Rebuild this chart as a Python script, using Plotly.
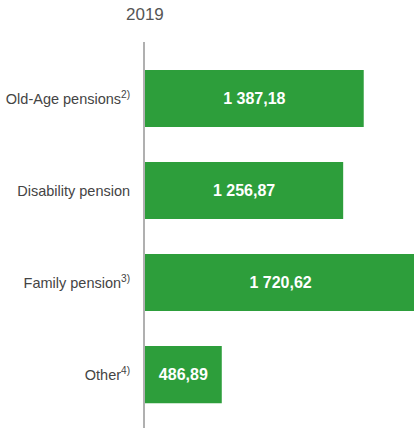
import plotly.graph_objects as go

categories = ["Old-Age pensions<sup>2)</sup>", "Disability pension",
              "Family pension<sup>3)</sup>", "Other<sup>4)</sup>"]
values = [1387.18, 1256.87, 1720.62, 486.89]
year_label = "2019"

fig = go.Figure(go.Bar(
    x=values, y=categories, orientation="h",
    marker=dict(color="#2d9e3b", line=dict(width=0)),
    texttemplate="<b>%{x:,.2f}</b>", textposition="inside",
    insidetextanchor="middle", constraintext="none",
    textfont=dict(family="Liberation Sans, Arial, sans-serif", size=16, color="white"),
    cliponaxis=True, hoverinfo="skip",
))

fig.update_layout(
    width=414, height=428,
    margin=dict(l=145, r=0, t=42, b=0),
    plot_bgcolor="white", paper_bgcolor="white",
    separators=", ",
    bargap=0.38,
    showlegend=False,
    xaxis=dict(range=[0, 1706], visible=False, showgrid=False, zeroline=False),
    yaxis=dict(range=[3.58, -0.614], showline=True, linecolor="#b0b0b0", linewidth=2,
               ticks="", showgrid=False, zeroline=False, ticklabelstandoff=10,
               automargin=False,
               tickfont=dict(family="Liberation Sans, Arial, sans-serif", size=14.5, color="#444444")),
    annotations=[dict(text=year_label, x=0, y=1 + 27/386, xref="paper", yref="paper",
                      xanchor="center", yanchor="middle", showarrow=False,
                      font=dict(family="Liberation Sans, Arial, sans-serif", size=17, color="#555555"))],
)

fig.write_html("out.html", config={"displayModeBar": False},
               post_script="document.body.style.margin='0';document.body.style.overflow='hidden';")
